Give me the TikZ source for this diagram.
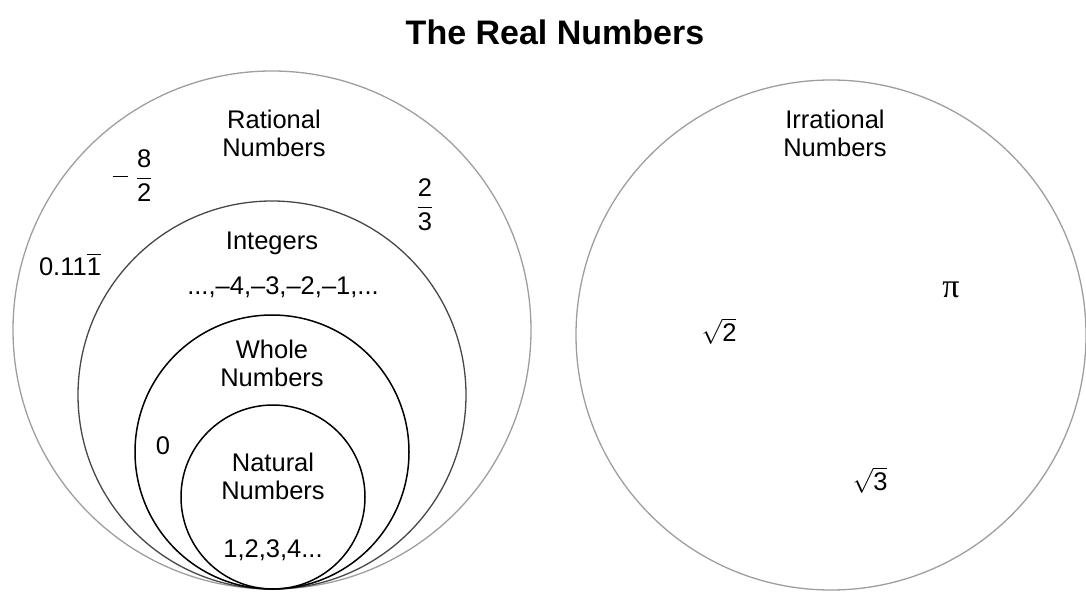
\documentclass[tikz,border=0pt]{standalone}
\usepackage{amsmath}
\usepackage{fontspec}
\setmainfont{Liberation Sans}
\newfontfamily\pifont{Liberation Serif}
\usetikzlibrary{positioning}
\tikzset{
    x=1pt, y=-1pt,
    every node/.append style={
        font=\fontsize{25.5}{28}\selectfont,
        align=center,
        inner sep=0pt
    },
    numset/.style={
        draw,
        circle,
        line width=1.3pt,
        inner sep=0pt
    },
    pale/.style={draw=black!38},
    dim/.style={draw=black!72}
}

\begin{document}
\begin{tikzpicture}
    \useasboundingbox (0,0) rectangle (1086,593);

    \node[font=\fontsize{34}{36}\selectfont\bfseries] (title) at (555,32) {The Real Numbers};

    % the nested sets
    \node[numset, pale, minimum size=518pt] (rational) at (272,330) {};
    \node[numset, dim, minimum size=388pt] (integers) at (272,395) {};
    \node[numset, line width=1.5pt, minimum size=274pt] (whole) at (272,452) {};
    \node[numset, line width=1.5pt, minimum size=184pt] (natural) at (273,497) {};
    \node[numset, pale, minimum size=510pt] (irrational) at (831,335) {};

    \node (ratlbl) at (274,133) {Rational\\Numbers};
    \node (eight) at (133,176) {\rule[0.3em]{0.58em}{1.3pt}\hspace{0.3em}$\dfrac{\text{8}}{\text{2}}$};
    \node (twothirds) at (425,205) {$\dfrac{\text{2}}{\text{3}}$};
    \node (repeat) at (70,264) {0.11$\overline{\text{1}}$};

    \node (intlbl) at (272,243) {Integers};
    \node (negs) at (283,287) {...,–4,–3,–2,–1,...};

    \node (wholelbl) at (272,363) {Whole\\Numbers};
    \node (zero) at (163,446) {0};

    \node (natlbl) at (273,476) {Natural\\Numbers};
    \node (counting) at (273,550) {1,2,3,4...};

    \node (irrlbl) at (835,133) {Irrational\\Numbers};
    \node[font=\fontsize{34}{36}\pifont] (pi) at (951,290) {π};
    \node (roottwo) at (719,331) {$\sqrt{\text{2}}$};
    \node (rootthree) at (870,480) {$\sqrt{\text{3}}$};
\end{tikzpicture}
\end{document}
